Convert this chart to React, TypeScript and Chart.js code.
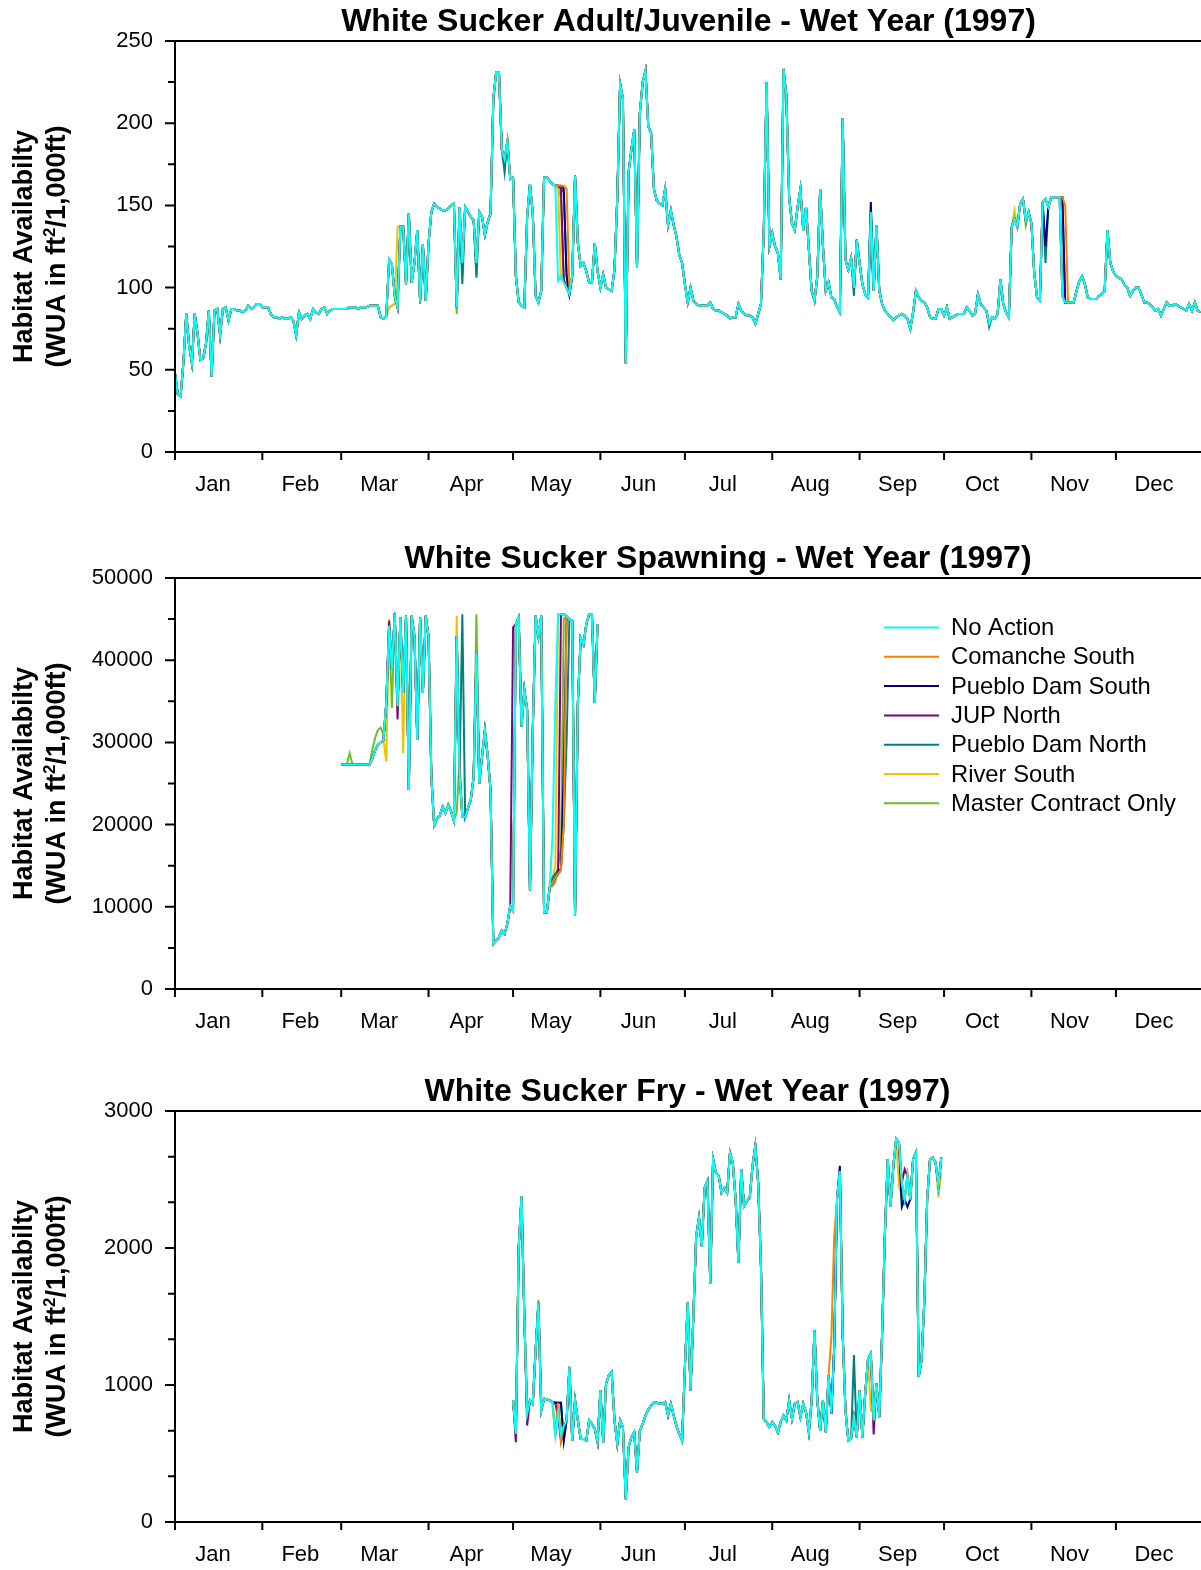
import { useEffect, useRef } from 'react';
import { Chart, registerables } from 'chart.js';

Chart.register(...registerables);

const FONT = "'Liberation Sans', Arial, Helvetica, sans-serif";

// ---------- categories / labels ----------
const MONTHS = ['Jan', 'Feb', 'Mar', 'Apr', 'May', 'Jun', 'Jul', 'Aug', 'Sep', 'Oct', 'Nov', 'Dec'];
const MONTH_START_DAYS = [0, 31, 59, 90, 120, 151, 181, 212, 243, 273, 304, 334];
const MONTH_LABEL_OFFSET = 13.5;

const SERIES_NAMES = [
  'No Action',
  'Comanche South',
  'Pueblo Dam South',
  'JUP North',
  'Pueblo Dam North',
  'River South',
  'Master Contract Only',
];
const SERIES_COLORS = ['#00FFFF', '#FF8000', '#000080', '#800080', '#008080', '#F2C200', '#6CBE2E'];

const TITLES = [
  'White Sucker Adult/Juvenile - Wet Year (1997)',
  'White Sucker Spawning - Wet Year (1997)',
  'White Sucker Fry - Wet Year (1997)',
];
const Y_TITLE_LINE1 = 'Habitat Availabilty';
const Y_TITLE_LINE2_A = '(WUA in ft';
const Y_TITLE_LINE2_SUP = '2';
const Y_TITLE_LINE2_B = '/1,000ft)';

// ---------- Adult/Juvenile (day 0 .. 364), No Action ----------
const ADULT_START_DAY = 0;
const ADULT_NO_ACTION = [
  48, 35, 34, 55, 84, 65, 54, 84, 72, 56,
  57, 66, 86, 46, 86, 87, 71, 87, 88, 80,
  87, 87, 86, 86, 85, 86, 89, 87, 88, 90,
  90, 88, 88, 88, 84, 82, 82, 81, 82, 81,
  81, 82, 80, 71, 85, 81, 83, 84, 81, 87,
  85, 84, 87, 88, 84, 86, 87, 87, 87, 87,
  87, 87, 88, 88, 88, 87, 88, 88, 88, 89,
  89, 89, 89, 82, 81, 83, 117, 114, 95, 88,
  137, 137, 102, 145, 103, 115, 135, 92, 126, 92,
  127, 146, 151, 149, 148, 147, 147, 148, 150, 151,
  88, 149, 115, 149, 146, 143, 141, 115, 146, 143,
  132, 140, 145, 215, 231, 231, 184, 178, 189, 166,
  167, 107, 91, 89, 88, 143, 163, 145, 95, 91,
  98, 167, 167, 165, 163, 162, 104, 107, 103, 100,
  96, 107, 168, 127, 113, 115, 110, 103, 103, 127,
  110, 100, 108, 100, 99, 98, 111, 155, 224, 215,
  54, 170, 184, 196, 112, 206, 225, 232, 198, 194,
  160, 153, 151, 150, 160, 138, 147, 138, 131, 120,
  115, 102, 91, 100, 92, 90, 89, 89, 89, 89,
  91, 87, 86, 86, 85, 84, 83, 81, 82, 82,
  90, 86, 84, 83, 83, 82, 78, 84, 90, 135,
  225, 125, 133, 125, 121, 105, 233, 217, 155, 139,
  135, 149, 160, 135, 149, 123, 98, 92, 107, 160,
  125, 98, 103, 94, 93, 88, 85, 203, 117, 111,
  118, 100, 129, 115, 102, 96, 94, 146, 98, 138,
  98, 90, 86, 84, 82, 80, 82, 83, 84, 83,
  81, 75, 85, 98, 94, 92, 91, 88, 82, 81,
  81, 87, 87, 83, 88, 81, 82, 83, 84, 84,
  84, 88, 86, 83, 84, 96, 90, 88, 86, 78,
  82, 81, 84, 105, 90, 85, 82, 137, 142, 137,
  151, 154, 141, 146, 139, 109, 94, 92, 152, 154,
  149, 155, 155, 155, 155, 95, 91, 91, 91, 91,
  98, 104, 107, 102, 94, 93, 93, 93, 95, 96,
  98, 135, 115, 110, 107, 106, 105, 102, 100, 95,
  98, 100, 100, 96, 91, 91, 90, 88, 86, 87,
  83, 87, 91, 89, 89, 90, 89, 88, 87, 86,
  90, 86, 91, 86, 85,
];
// days where the alternatives differ from No Action: [day, value]
const ADULT_COMANCHE_SOUTH: [number, number][] = [[136, 162], [137, 162], [138, 162], [139, 160], [140, 100], [247, 140], [315, 155], [316, 150]];
const ADULT_PUEBLO_DAM_SOUTH: [number, number][] = [[136, 162], [137, 162], [138, 160], [139, 107], [247, 152], [309, 125], [315, 155]];
const ADULT_JUP_NORTH: [number, number][] = [[136, 162], [137, 160], [138, 105], [247, 130]];
const ADULT_PUEBLO_DAM_NORTH: [number, number][] = [[102, 102], [107, 106], [117, 170], [136, 162], [137, 160], [138, 158], [139, 108], [241, 95], [289, 76], [309, 115], [315, 155]];
const ADULT_RIVER_SOUTH: [number, number][] = [[76, 88], [77, 89], [78, 90], [79, 137], [101, 140], [136, 160], [137, 105], [298, 147]];
const ADULT_MASTER_CONTRACT: [number, number][] = [[76, 88], [77, 89], [78, 90], [79, 100], [87, 90], [100, 84], [102, 107], [107, 108], [136, 160], [137, 155], [138, 104], [302, 138]];

// ---------- Spawning (day 59 .. 150), No Action ----------
const SPAWN_START_DAY = 59;
const SPAWN_NO_ACTION = [
  27300, 27300, 27300, 27300, 27300, 27300, 27300, 27300, 27300, 27300, 27300,
  28000, 29000, 29700, 30000, 30300,
  34800, 44200, 38900, 45600, 34400, 45200, 36000, 45400, 24200, 45400,
  42900, 30300, 45200, 36000, 45400, 42900, 25800, 19900, 20700, 21100,
  22200, 21400, 22400, 21600, 20500, 42900, 26200, 21000, 20900, 22000,
  23000, 25800, 40900, 25000, 28300, 31500, 28300, 24200, 5500, 5900,
  6300, 7100, 6700, 8000, 10100, 9500, 44400, 45200, 31900, 36400,
  34000, 12000, 31500, 45400, 42900, 45400, 9300, 9300, 12400, 18500,
  34800, 45600, 45600, 45600, 45400, 45000, 44800, 8900, 34800, 42700,
  41900, 44400, 45600, 45600, 34800, 44400,
];
const SPAWN_COMANCHE_SOUTH: [number, number][] = [[134, 13000], [135, 13500], [136, 14000], [137, 14500], [138, 20000], [139, 45400]];
const SPAWN_PUEBLO_DAM_SOUTH: [number, number][] = [[134, 13000], [135, 13500], [136, 14000], [137, 14500], [138, 27000], [139, 45000]];
const SPAWN_JUP_NORTH: [number, number][] = [[76, 44800], [79, 32800], [120, 44000], [134, 13000], [135, 13500], [136, 14000], [137, 45600]];
const SPAWN_PUEBLO_DAM_NORTH: [number, number][] = [[78, 45800], [102, 45600], [134, 13500], [135, 14000], [136, 14500], [137, 14500], [138, 20000], [139, 30000], [140, 45000]];
const SPAWN_RIVER_SOUTH: [number, number][] = [[75, 27700], [76, 45000], [81, 28700], [100, 45400], [134, 13500], [135, 15000], [136, 45600]];
const SPAWN_MASTER_CONTRACT: [number, number][] = [[62, 28700], [70, 29000], [71, 30500], [72, 31500], [73, 31800], [74, 31000], [75, 32000], [77, 34200], [100, 21500], [101, 28000], [102, 21000], [107, 45600], [134, 12500], [135, 13000], [136, 15000], [137, 17000], [138, 45000]];

// ---------- Fry (day 120 .. 272), No Action ----------
const FRY_START_DAY = 120;
const FRY_NO_ACTION = [
  888, 643, 2000, 2380, 1500, 790, 888, 863, 1254, 1600,
  814, 900, 895, 888, 875, 631, 790, 643, 700, 741,
  1132, 594, 888, 741, 606, 606, 594, 741, 716, 680,
  582, 961, 582, 1010, 1071, 1095, 741, 570, 741, 692,
  166, 545, 620, 655, 362, 667, 716, 778, 820, 851,
  875, 870, 863, 863, 875, 778, 863, 780, 700, 643,
  594, 1132, 1597, 961, 1499, 2086, 2220, 2012, 2440, 2489,
  1743, 2648, 2550, 2526, 2403, 2440, 2403, 2697, 2623, 2355,
  1890, 2575, 2306, 2342, 2367, 2599, 2746, 2477, 1866, 753,
  729, 692, 729, 700, 655, 729, 778, 741, 888, 753,
  863, 875, 765, 863, 800, 655, 888, 1401, 888, 667,
  888, 655, 1071, 790, 1279, 2355, 2562, 1376, 814, 594,
  606, 765, 619, 961, 619, 937, 1193, 1230, 741, 1010,
  765, 1376, 2110, 2648, 2306, 2599, 2795, 2770, 2477, 2355,
  2526, 2355, 2648, 2697, 1059, 1181, 1621, 2355, 2648, 2660,
  2623, 2452, 2660,
];
const FRY_COMANCHE_SOUTH: [number, number][] = [[136, 870], [137, 600], [233, 1350], [234, 2086]];
const FRY_PUEBLO_DAM_SOUTH: [number, number][] = [[135, 870], [136, 870], [137, 870], [138, 590], [236, 2600], [258, 2300], [260, 2300]];
const FRY_JUP_NORTH: [number, number][] = [[121, 582], [125, 704], [135, 870], [136, 760], [137, 600], [248, 640], [259, 2575]];
const FRY_PUEBLO_DAM_NORTH: [number, number][] = [[135, 870], [136, 870], [137, 870], [138, 600], [241, 1218], [258, 2330]];
const FRY_RIVER_SOUTH: [number, number][] = [[135, 870], [136, 870], [137, 590], [247, 814], [248, 814], [257, 2450], [258, 2380], [271, 2370], [272, 2550]];
const FRY_MASTER_CONTRACT: [number, number][] = [[129, 1621], [136, 860], [137, 590], [182, 1609]];

// ---------- panel definitions ----------
type Panel = {
  title: string;
  titleX: number;
  yMax: number;
  yStep: number;
  yMinor: number[];
  start: number;
  base: number[];
  overrides: [number, number][][];
  legend: boolean;
  top: number;
};

const PANELS: Panel[] = [
  {
    title: TITLES[0], titleX: 688.5, yMax: 250, yStep: 50,
    yMinor: [25, 75, 125, 175, 225],
    start: ADULT_START_DAY, base: ADULT_NO_ACTION,
    overrides: [[], ADULT_COMANCHE_SOUTH, ADULT_PUEBLO_DAM_SOUTH, ADULT_JUP_NORTH, ADULT_PUEBLO_DAM_NORTH, ADULT_RIVER_SOUTH, ADULT_MASTER_CONTRACT],
    legend: false, top: 0,
  },
  {
    title: TITLES[1], titleX: 718, yMax: 50000, yStep: 10000,
    yMinor: [5000, 15000, 25000, 35000, 45000],
    start: SPAWN_START_DAY, base: SPAWN_NO_ACTION,
    overrides: [[], SPAWN_COMANCHE_SOUTH, SPAWN_PUEBLO_DAM_SOUTH, SPAWN_JUP_NORTH, SPAWN_PUEBLO_DAM_NORTH, SPAWN_RIVER_SOUTH, SPAWN_MASTER_CONTRACT],
    legend: true, top: 537,
  },
  {
    title: TITLES[2], titleX: 687.5, yMax: 3000, yStep: 1000,
    yMinor: [1000 / 3, 2000 / 3, 4000 / 3, 5000 / 3, 7000 / 3, 8000 / 3],
    start: FRY_START_DAY, base: FRY_NO_ACTION,
    overrides: [[], FRY_COMANCHE_SOUTH, FRY_PUEBLO_DAM_SOUTH, FRY_JUP_NORTH, FRY_PUEBLO_DAM_NORTH, FRY_RIVER_SOUTH, FRY_MASTER_CONTRACT],
    legend: false, top: 1070,
  },
];

const CANVAS_W = 1201;
const CANVAS_H = 500;
const PLOT_TOP = 41;
const PLOT_BOTTOM = 452;
const X_MAX_DAY = 364.2;

function buildSeries(base: number[], start: number, overrides: [number, number][]) {
  const ov = new Map<number, number>(overrides);
  return base.map((v, i) => {
    const day = start + i;
    return { x: day, y: ov.has(day) ? (ov.get(day) as number) : v };
  });
}

const decorPlugin = {
  id: 'decor',
  afterDraw(chart: any, _args: any, opts: any) {
    const { ctx, chartArea: ca, scales } = chart;
    const xs = scales.x;
    const ys = scales.y;
    ctx.save();
    ctx.strokeStyle = '#000';
    ctx.lineWidth = 2;
    ctx.beginPath();
    ctx.moveTo(ca.left, ca.top - 1);
    ctx.lineTo(ca.left, ca.bottom + 1);
    ctx.moveTo(ca.left - 1, ca.bottom);
    ctx.lineTo(ca.right, ca.bottom);
    ctx.moveTo(ca.left - 1, ca.top);
    ctx.lineTo(ca.right, ca.top);
    for (let v = 0; v <= opts.yMax + 1e-6; v += opts.yStep) {
      const p = ys.getPixelForValue(v);
      ctx.moveTo(ca.left - 10, p);
      ctx.lineTo(ca.left, p);
    }
    opts.yMinor.forEach((v: number) => {
      const p = ys.getPixelForValue(v);
      ctx.moveTo(ca.left - 7, p);
      ctx.lineTo(ca.left, p);
    });
    MONTH_START_DAYS.forEach((d) => {
      const p = xs.getPixelForValue(d);
      ctx.moveTo(p, ca.bottom);
      ctx.lineTo(p, ca.bottom + 8);
    });
    ctx.stroke();

    // title
    ctx.fillStyle = '#000';
    ctx.textAlign = 'center';
    ctx.textBaseline = 'middle';
    ctx.font = `bold 32px ${FONT}`;
    ctx.fillText(opts.title, opts.titleX, 22);

    // y axis title (two lines, rotated)
    const cy = (ca.top + ca.bottom) / 2;
    ctx.save();
    ctx.translate(25, cy);
    ctx.rotate(-Math.PI / 2);
    ctx.font = `bold 27px ${FONT}`;
    ctx.textAlign = 'center';
    ctx.fillText(Y_TITLE_LINE1, 0, 0);
    ctx.restore();

    ctx.save();
    ctx.translate(58, cy);
    ctx.rotate(-Math.PI / 2);
    ctx.textAlign = 'left';
    ctx.font = `bold 27px ${FONT}`;
    const wA = ctx.measureText(Y_TITLE_LINE2_A).width;
    const wB = ctx.measureText(Y_TITLE_LINE2_B).width;
    ctx.font = `bold 17px ${FONT}`;
    const wS = ctx.measureText(Y_TITLE_LINE2_SUP).width;
    const x0 = -(wA + wS + wB) / 2;
    ctx.font = `bold 27px ${FONT}`;
    ctx.fillText(Y_TITLE_LINE2_A, x0, 0);
    ctx.font = `bold 17px ${FONT}`;
    ctx.fillText(Y_TITLE_LINE2_SUP, x0 + wA, -8);
    ctx.font = `bold 27px ${FONT}`;
    ctx.fillText(Y_TITLE_LINE2_B, x0 + wA + wS, 0);
    ctx.restore();

    // legend
    if (opts.legend) {
      ctx.font = `23.8px ${FONT}`;
      ctx.textAlign = 'left';
      ctx.textBaseline = 'middle';
      SERIES_NAMES.forEach((name, i) => {
        const y = 90.5 + i * 29.3;
        ctx.strokeStyle = SERIES_COLORS[i];
        ctx.lineWidth = 2;
        ctx.beginPath();
        ctx.moveTo(884, y);
        ctx.lineTo(939, y);
        ctx.stroke();
        ctx.fillStyle = '#000';
        ctx.fillText(name, 951, y + 1);
      });
    }
    ctx.restore();
  },
};

function ChartPanel({ panel }: { panel: Panel }) {
  const ref = useRef<HTMLCanvasElement | null>(null);
  useEffect(() => {
    if (!ref.current) return;
    const datasets = SERIES_NAMES.map((name, i) => ({
      label: name,
      data: buildSeries(panel.base, panel.start, panel.overrides[i]),
      borderColor: SERIES_COLORS[i],
      backgroundColor: SERIES_COLORS[i],
      borderWidth: 2,
      pointRadius: 0,
      tension: 0,
      fill: false,
    }));
    const chart = new Chart(ref.current, {
      type: 'line',
      data: { datasets },
      plugins: [decorPlugin],
      options: {
        animation: false,
        responsive: false,
        devicePixelRatio: 1,
        events: [],
        layout: { padding: { top: PLOT_TOP, left: 0, right: 0, bottom: 0 } },
        plugins: {
          legend: { display: false },
          tooltip: { enabled: false },
          title: { display: false },
          decor: {
            title: panel.title,
            titleX: panel.titleX,
            yMax: panel.yMax,
            yStep: panel.yStep,
            yMinor: panel.yMinor,
            legend: panel.legend,
          },
        } as any,
        scales: {
          x: {
            type: 'linear',
            min: 0,
            max: X_MAX_DAY,
            afterBuildTicks: (scale: any) => {
              scale.ticks = MONTH_START_DAYS.map((d) => ({ value: d + MONTH_LABEL_OFFSET }));
            },
            afterFit: (scale: any) => {
              scale.height = CANVAS_H - PLOT_BOTTOM;
            },
            ticks: {
              autoSkip: false,
              maxRotation: 0,
              minRotation: 0,
              padding: 12,
              color: '#000',
              font: { family: FONT, size: 22 },
              callback: (_v: any, i: number) => MONTHS[i],
            },
            grid: { drawOnChartArea: false, drawTicks: true, tickLength: 8, tickColor: 'rgba(0,0,0,0)' },
            border: { display: false },
          },
          y: {
            type: 'linear',
            min: 0,
            max: panel.yMax,
            afterFit: (scale: any) => {
              scale.width = 175;
            },
            ticks: {
              stepSize: panel.yStep,
              padding: 12,
              color: '#000',
              font: { family: FONT, size: 22 },
              callback: (v: any) => String(v),
            },
            grid: { drawOnChartArea: false, drawTicks: true, tickLength: 10, tickColor: 'rgba(0,0,0,0)' },
            border: { display: false },
          },
        },
      } as any,
    });
    return () => chart.destroy();
  }, [panel]);
  return (
    <canvas
      ref={ref}
      width={CANVAS_W}
      height={CANVAS_H}
      style={{ position: 'absolute', left: 0, top: panel.top, width: CANVAS_W, height: CANVAS_H }}
    />
  );
}

export default function App() {
  return (
    <div style={{ position: 'absolute', left: 0, top: 0, width: CANVAS_W, height: 1570, background: '#fff' }}>
      {PANELS.map((p, i) => (
        <ChartPanel key={i} panel={p} />
      ))}
    </div>
  );
}
